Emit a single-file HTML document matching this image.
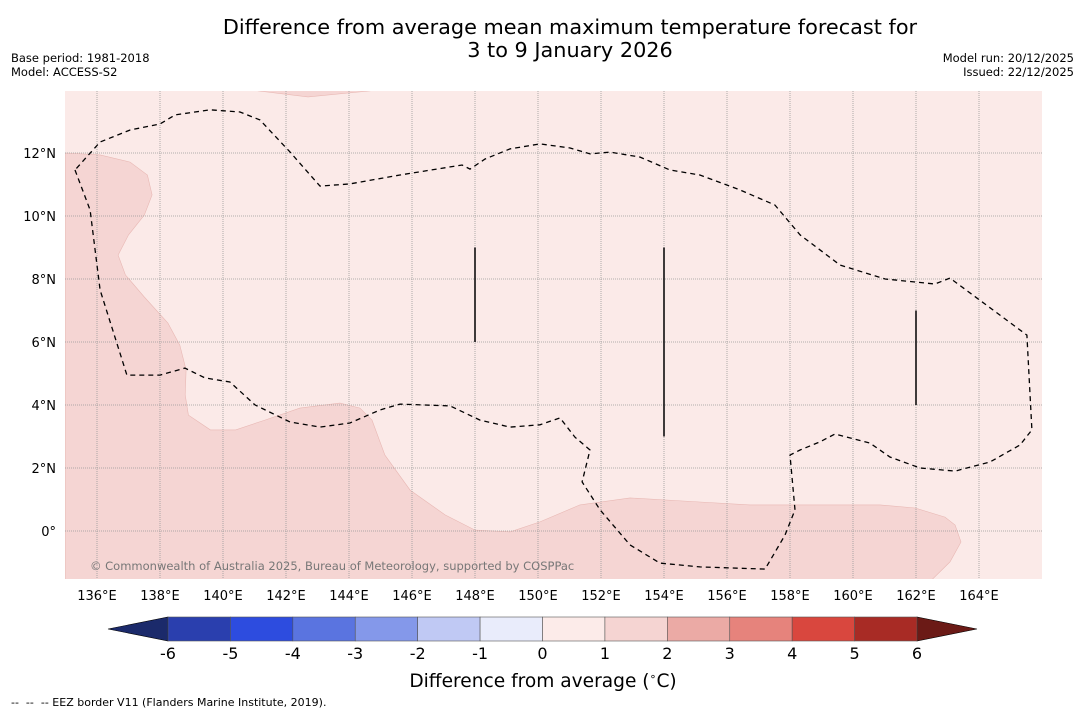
<!DOCTYPE html>
<html><head><meta charset="utf-8"><style>
body{margin:0;background:#fff;font-family:"DejaVu Sans","Liberation Sans",sans-serif;}
svg text{font-family:"DejaVu Sans","Liberation Sans",sans-serif;}
</style></head><body>
<svg id="c" width="1085" height="713" xmlns="http://www.w3.org/2000/svg">
<text x="570" y="34" font-size="20.8" text-anchor="middle">Difference from average mean maximum temperature forecast for</text>
<text x="570" y="57" font-size="20.8" text-anchor="middle">3 to 9 January 2026</text>
<text x="11" y="62" font-size="11.5">Base period: 1981-2018</text>
<text x="11" y="76" font-size="11.5">Model: ACCESS-S2</text>
<text x="1074" y="62" font-size="11.5" text-anchor="end">Model run: 20/12/2025</text>
<text x="1074" y="76" font-size="11.5" text-anchor="end">Issued: 22/12/2025</text>
<defs><clipPath id="mc"><rect x="65" y="91" width="977" height="488"/></clipPath></defs>
<g id="map" clip-path="url(#mc)"></g>
<g id="ax"></g>
<g id="cb"></g>
<text x="543" y="687" font-size="18.6" text-anchor="middle">Difference from average (<tspan font-size="11" dy="-7">∘</tspan><tspan dy="7">C)</tspan></text>
<text x="11" y="706" font-size="11" xml:space="preserve">--  --  -- EEZ border V11 (Flanders Marine Institute, 2019).</text>
</svg>
<script>
const lonTicks=[136,138,140,142,144,146,148,150,152,154,156,158,160,162,164];
const latTicks=[0,2,4,6,8,10,12];
const warmRegion=[[135,12],[136.1,11.94],[137.05,11.71],[137.6,11.3],[137.75,10.67],[137.5,10.03],[137,9.4],[136.67,8.76],[136.9,8.13],[137.5,7.43],[138.25,6.6],[138.63,5.9],[138.83,5.11],[138.8,4.32],[138.9,3.68],[139.6,3.21],[140.4,3.21],[141.33,3.52],[142.44,3.9],[143.71,4.06],[144.35,3.9],[144.73,3.52],[145.14,2.41],[145.94,1.3],[147.05,0.51],[148,0.03],[149.11,-0.03],[150.06,0.29],[151.33,0.83],[152.92,1.05],[155.14,0.92],[156.73,0.83],[160.86,0.83],[161.97,0.73],[162.92,0.44],[163.24,0.19],[163.43,-0.35],[163.08,-0.98],[162.45,-1.6],[135,-1.6]];
const warmTop=[[141.11,14.1],[141.11,13.97],[142.7,13.78],[144.67,13.97],[144.67,14.1]];
const eez=[[135.3,11.46],[135.78,10.19],[136.1,7.65],[136.95,4.95],[138,4.95],[138.79,5.17],[139.43,4.86],[140.22,4.73],[141.02,4.0],[142.13,3.46],[143.08,3.3],[144.03,3.43],[144.98,3.84],[145.62,4.03],[147.21,3.97],[148.16,3.52],[149.11,3.3],[150.06,3.37],[150.7,3.59],[151.17,2.98],[151.65,2.57],[151.4,1.56],[151.97,0.67],[152.92,-0.44],[153.87,-1.02],[155.14,-1.14],[157.21,-1.21],[157.84,-0.13],[158.16,0.67],[158,2.41],[158.32,2.57],[158.95,2.83],[159.43,3.08],[160.54,2.79],[161.17,2.35],[162.13,2.0],[163.24,1.9],[164.35,2.19],[165.3,2.73],[165.68,3.21],[165.52,6.22],[163.08,8.03],[162.6,7.84],[161.02,8.0],[159.59,8.44],[158.32,9.4],[157.52,10.35],[156.41,10.83],[155.14,11.3],[154.19,11.46],[153.24,11.87],[152.29,12.03],[151.65,11.97],[151.02,12.16],[150.06,12.29],[149.11,12.13],[148.32,11.81],[147.84,11.49],[147.59,11.62],[145.62,11.3],[144.03,11.02],[143.08,10.95],[142.13,12.03],[141.17,13.05],[140.54,13.3],[139.59,13.37],[138.48,13.21],[138,12.92],[137.05,12.73],[136.1,12.35],[135.3,11.46]];
const segLon=[148,154,162];
const segLat0=[6,3,4];
const segLat1=[9,9,7];
const cbLevels=[-6,-5,-4,-3,-2,-1,0,1,2,3,4,5,6];
const cbColors=["#2a3fae","#2d4cdf","#5a74e0","#8498ea","#c0c9f4","#e9ecfb","#fcebe9","#f5d4d2","#ebaaa5","#e6837c","#d9473e","#a82b25"];
const cbLow="#1b2a6b",cbHigh="#6b1a16";

const X=lon=>65.5+(lon-135)*31.5;
const Y=lat=>531-lat*31.5;
const CX=v=>168+(v+6)*(917-168)/12;
const NS="http://www.w3.org/2000/svg";
function mk(p,t,a){const e=document.createElementNS(NS,t);for(const k in a)e.setAttribute(k,a[k]);p.appendChild(e);return e;}
const map=document.getElementById('map'),ax=document.getElementById('ax'),cb=document.getElementById('cb');
let bg=mk(map,'rect',{x:65,y:91,width:977,height:488,fill:'#fbeae8'});


const pts=a=>a.map(p=>X(p[0]).toFixed(1)+','+Y(p[1]).toFixed(1)).join(' ');
let w=mk(map,'polygon',{points:pts(warmRegion),fill:'#f5d5d3',stroke:'#e8b8b4','stroke-width':0.6});


let w2=mk(map,'polygon',{points:pts(warmTop),fill:'#f5d5d3',stroke:'#e8b8b4','stroke-width':0.6});


lonTicks.forEach(l=>{
 let g=mk(map,'line',{x1:X(l),x2:X(l),y1:91,y2:579,stroke:'#999',"stroke-width":0.8,"stroke-dasharray":"1,1"});
 
 
 let t=mk(ax,'text',{x:X(l),y:600,'font-size':13,'text-anchor':'middle'});t.textContent=l+'°E';
 
 
});
latTicks.forEach(l=>{
 let g=mk(map,'line',{x1:65,x2:1042,y1:Y(l),y2:Y(l),stroke:'#999',"stroke-width":0.8,"stroke-dasharray":"1,1"});
 
 
 let t=mk(ax,'text',{x:56,y:Y(l)+5,'font-size':13,'text-anchor':'end'});t.textContent=l===0?'0°':l+'°N';
 
 
});
let e=mk(map,'polyline',{points:pts(eez),fill:'none',stroke:'#000','stroke-width':1.3,'stroke-dasharray':'5,4'});


segLon.forEach((l,i)=>{
 let s=mk(map,'line',{x1:X(l),x2:X(l),y1:Y(segLat0[i]),y2:Y(segLat1[i]),stroke:'#000','stroke-width':1.5});
 
 
});
let cp=mk(map,'text',{x:90,y:570,'font-size':11.5,fill:'#777'});cp.textContent='© Commonwealth of Australia 2025, Bureau of Meteorology, supported by COSPPac';


let lo=mk(cb,'polygon',{points:`${CX(-6)},617 ${CX(-6)},641 108,629`,fill:cbLow,stroke:'#000','stroke-width':0.6});


let hi=mk(cb,'polygon',{points:`${CX(6)},617 ${CX(6)},641 977,629`,fill:cbHigh,stroke:'#000','stroke-width':0.6});


cbColors.forEach((c,i)=>{
 let r=mk(cb,'rect',{x:CX(cbLevels[i]),y:617,width:CX(cbLevels[i+1])-CX(cbLevels[i]),height:24,fill:c,stroke:'#555','stroke-width':0.6});
 
 
});
cbLevels.forEach(v=>{
 let t=mk(cb,'text',{x:CX(v),y:659,'font-size':16,'text-anchor':'middle'});t.textContent=v;
 
 
});
</script>
</body></html>
